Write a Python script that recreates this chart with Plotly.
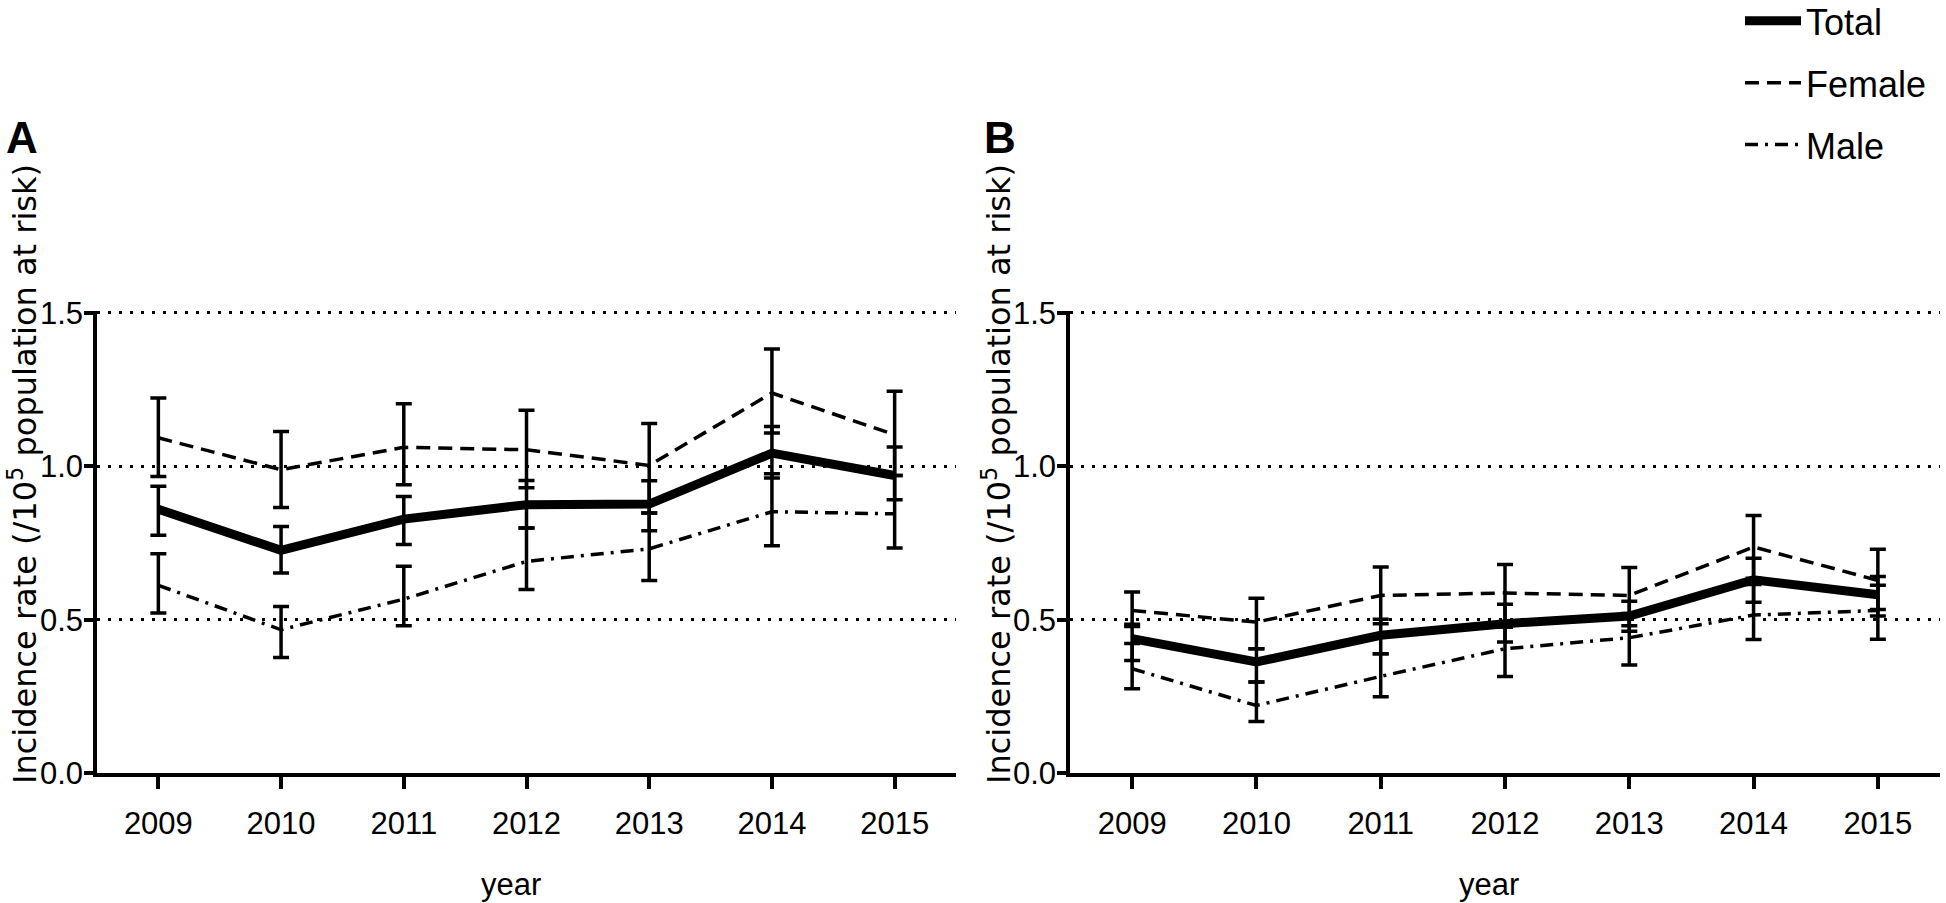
import plotly.graph_objects as go

# ---------------- data ----------------
years = [2009, 2010, 2011, 2012, 2013, 2014, 2015]
year_labels = ["2009", "2010", "2011", "2012", "2013", "2014", "2015"]
y_ticks = [0.0, 0.5, 1.0, 1.5]
y_tick_labels = ["0.0", "0.5", "1.0", "1.5"]
series_names = ["Total", "Female", "Male"]

# Panel A
a_total = [0.860, 0.726, 0.828, 0.875, 0.877, 1.043, 0.970]
a_total_lo = [0.775, 0.652, 0.745, 0.799, 0.790, 0.962, 0.891]
a_total_hi = [0.935, 0.804, 0.902, 0.954, 0.953, 1.130, 1.063]
a_female = [1.093, 0.989, 1.062, 1.054, 1.003, 1.239, 1.103]
a_female_lo = [0.967, 0.866, 0.940, 0.930, 0.848, 1.109, 0.970]
a_female_hi = [1.223, 1.114, 1.204, 1.183, 1.140, 1.383, 1.245]
a_male = [0.612, 0.467, 0.567, 0.690, 0.731, 0.852, 0.845]
a_male_lo = [0.522, 0.377, 0.480, 0.598, 0.628, 0.741, 0.734]
a_male_hi = [0.715, 0.543, 0.674, 0.799, 0.848, 0.976, 0.970]

# Panel B
b_total = [0.438, 0.362, 0.449, 0.487, 0.512, 0.630, 0.581]
b_total_lo = [0.367, 0.297, 0.389, 0.427, 0.462, 0.557, 0.512]
b_total_hi = [0.485, 0.405, 0.501, 0.550, 0.560, 0.700, 0.641]
b_female = [0.530, 0.492, 0.579, 0.587, 0.579, 0.737, 0.628]
b_female_lo = [0.478, 0.405, 0.487, 0.476, 0.480, 0.635, 0.533]
b_female_hi = [0.590, 0.570, 0.672, 0.680, 0.670, 0.840, 0.730]
b_male = [0.340, 0.220, 0.315, 0.405, 0.441, 0.515, 0.530]
b_male_lo = [0.275, 0.168, 0.249, 0.315, 0.352, 0.435, 0.436]
b_male_hi = [0.422, 0.297, 0.389, 0.476, 0.520, 0.615, 0.612]

# ---------------- styles ----------------
FONT = "Liberation Sans, Arial, sans-serif"
styles = {
    "Total": dict(width=9, dash="solid"),
    "Female": dict(width=3.5, dash="14px,8px"),
    "Male": dict(width=3.5, dash="13px,7px,3px,7px"),
}

fig = go.Figure()


def add_series(name, vals, lo, hi, xa, ya, show):
    plus = [h - v for h, v in zip(hi, vals)]
    minus = [v - l for v, l in zip(vals, lo)]
    fig.add_trace(go.Scatter(
        x=years, y=vals, name=name, mode="lines",
        line=dict(color="black", **styles[name]),
        error_y=dict(type="data", symmetric=False, array=plus, arrayminus=minus,
                     color="black", thickness=3.5, width=8),
        xaxis=xa, yaxis=ya, showlegend=show, legendgroup=name,
        legendrank={"Total": 1, "Female": 2, "Male": 3}[name],
    ))


panel_a = {"Female": (a_female, a_female_lo, a_female_hi),
           "Male": (a_male, a_male_lo, a_male_hi),
           "Total": (a_total, a_total_lo, a_total_hi)}
panel_b = {"Female": (b_female, b_female_lo, b_female_hi),
           "Male": (b_male, b_male_lo, b_male_hi),
           "Total": (b_total, b_total_lo, b_total_hi)}

for nm in ["Female", "Male", "Total"]:
    add_series(nm, *panel_a[nm], "x", "y", True)
for nm in ["Female", "Male", "Total"]:
    add_series(nm, *panel_b[nm], "x2", "y2", False)

W, H = 1946, 903
Y_TOP = 1.508  # tiny headroom so the 1.5 grid line is not clipped

xcommon = dict(range=[2008.5, 2015.5], tickmode="array", tickvals=years, ticktext=year_labels,
               showline=True, linecolor="black", linewidth=3.5, ticks="outside", ticklen=12,
               tickwidth=3.5, tickcolor="black", showgrid=False, zeroline=False,
               automargin=False,
               tickfont=dict(family=FONT, size=31, color="black"), ticklabelstandoff=8)
ycommon = dict(range=[0, Y_TOP], tickmode="array", tickvals=y_ticks, ticktext=y_tick_labels,
               showline=True, linecolor="black", linewidth=3.5, ticks="outside", ticklen=9,
               tickwidth=3.5, tickcolor="black", showgrid=True, gridcolor="black",
               gridwidth=2.5, griddash="3px,8px", zeroline=False, automargin=False,
               ticklabelstandoff=-5,
               tickfont=dict(family=FONT, size=31, color="black"))

px_per_unit = 460 / 1.5
top_px = 313 - (Y_TOP - 1.5) * px_per_unit
ydom = [130 / H, (H - top_px) / H]
fig.update_layout(
    width=W, height=H,
    margin=dict(l=0, r=0, t=0, b=0, pad=0, autoexpand=False),
    paper_bgcolor="white", plot_bgcolor="white",
    xaxis=dict(domain=[97 / W, 956 / W], anchor="y", **xcommon),
    yaxis=dict(domain=ydom, anchor="x", **ycommon),
    xaxis2=dict(domain=[1070 / W, 1940 / W], anchor="y2", **xcommon),
    yaxis2=dict(domain=ydom, anchor="x2", **ycommon),
    showlegend=True,
    legend=dict(x=1740 / W, y=1.010, xanchor="left", yanchor="top", itemwidth=56,
                font=dict(family=FONT, size=36, color="black"),
                tracegroupgap=12, traceorder="grouped", bgcolor="rgba(0,0,0,0)"),
)

ytitle = "Incidence rate (/10<sup>5</sup> population at risk)"
anns = [
    dict(text="<b>A</b>", x=22 / W, y=1 - 137 / H, font=dict(family=FONT, size=44)),
    dict(text="<b>B</b>", x=1000 / W, y=1 - 137 / H, font=dict(family=FONT, size=44)),
    dict(text=ytitle, x=23 / W, y=1 - 474 / H, textangle=-90,
         font=dict(family="DejaVu Sans, sans-serif", size=32)),
    dict(text=ytitle, x=997 / W, y=1 - 474 / H, textangle=-90,
         font=dict(family="DejaVu Sans, sans-serif", size=32)),
    dict(text="year", x=511 / W, y=1 - 884 / H, font=dict(family=FONT, size=31)),
    dict(text="year", x=1489 / W, y=1 - 884 / H, font=dict(family=FONT, size=31)),
]
for a in anns:
    a["font"]["color"] = "black"
    fig.add_annotation(xref="paper", yref="paper", showarrow=False,
                       xanchor="center", yanchor="middle", **a)

# remove the default 8px page margin so figure pixels map 1:1 onto the window
fig.write_html("out.html", config={"displayModeBar": False},
               post_script="document.body.style.margin='0';document.body.style.overflow='hidden';")
